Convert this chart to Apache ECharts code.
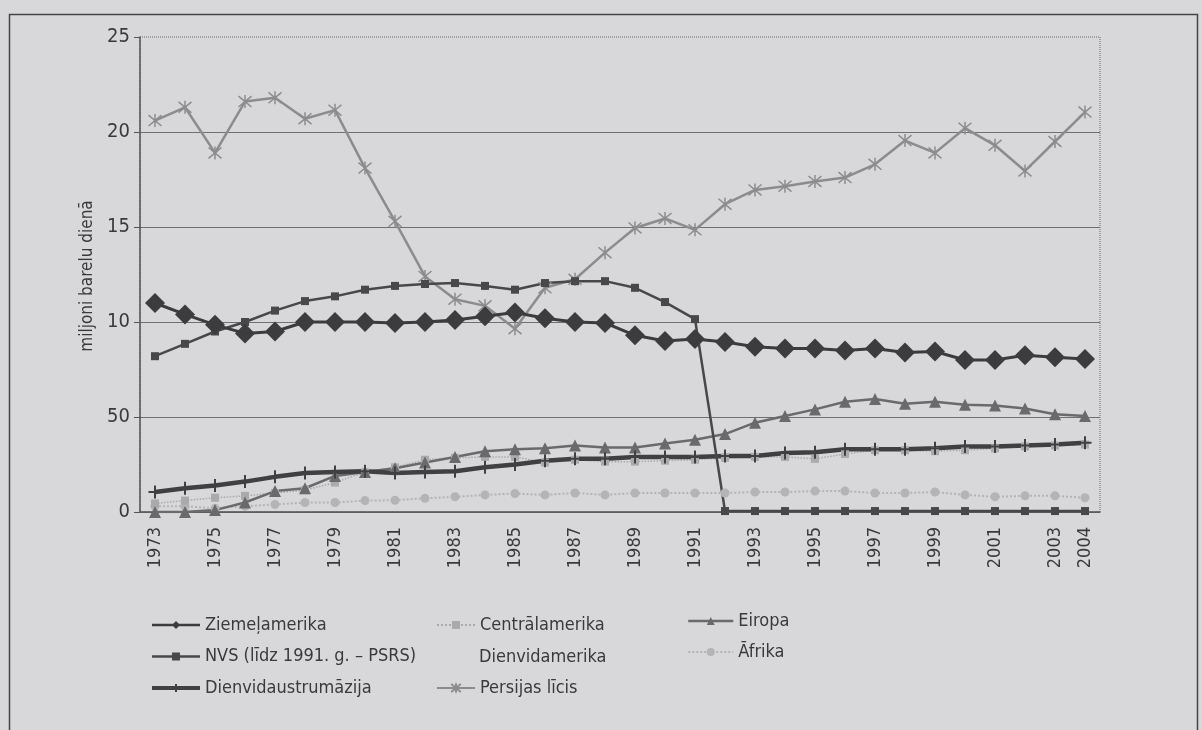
<!DOCTYPE html>
<html>
<head>
<meta charset="utf-8">
<script src="https://cdn.jsdelivr.net/npm/echarts@6/dist/echarts.min.js"></script>
<style>
  html, body { margin: 0; padding: 0; background: #d8d8da; }
  #chart { width: 1202px; height: 730px; }
</style>
</head>
<body>
<div id="chart"></div>
<script>
// gadi
const years = ['1973','1974','1975','1976','1977','1978','1979','1980','1981','1982',
  '1983','1984','1985','1986','1987','1988','1989','1990','1991','1992',
  '1993','1994','1995','1996','1997','1998','1999','2000','2001','2002','2003','2004'];

// y ass iespiesta ar "50" pie 5
const yTickLabels = ['0', '50', '10', '15', '20', '25'];

const ziemelamerika = [11.0, 10.4, 9.85, 9.4, 9.5, 10.0, 10.0, 10.0, 9.95, 10.0,
  10.1, 10.3, 10.5, 10.2, 10.0, 9.95, 9.3, 9.0, 9.1, 8.95,
  8.7, 8.6, 8.6, 8.5, 8.6, 8.4, 8.45, 8.0, 8.0, 8.25, 8.15, 8.05];
const nvs = [8.2, 8.85, 9.5, 10.0, 10.6, 11.1, 11.35, 11.7, 11.9, 12.0,
  12.05, 11.9, 11.7, 12.05, 12.15, 12.15, 11.8, 11.05, 10.15, 0.05,
  0.05, 0.05, 0.05, 0.05, 0.05, 0.05, 0.05, 0.05, 0.05, 0.05, 0.05, 0.05];
const dienvidaustrumazija = [1.05, 1.25, 1.4, 1.6, 1.85, 2.05, 2.1, 2.15, 2.05, 2.1,
  2.15, 2.35, 2.5, 2.7, 2.8, 2.8, 2.9, 2.9, 2.9, 2.95,
  2.95, 3.1, 3.15, 3.3, 3.3, 3.3, 3.35, 3.45, 3.45, 3.5, 3.55, 3.65];
const centralamerika = [0.45, 0.6, 0.75, 0.85, 1.0, 1.15, 1.55, 2.1, 2.35, 2.75,
  2.85, 2.9, 2.9, 2.6, 2.75, 2.65, 2.65, 2.7, 2.75, 2.85,
  2.9, 2.9, 2.8, 3.05, 3.25, 3.25, 3.2, 3.25, 3.35, 3.45, 3.5, 3.55];
const persijasLicis = [20.6, 21.3, 18.9, 21.6, 21.8, 20.7, 21.15, 18.1, 15.3, 12.4,
  11.2, 10.85, 9.65, 11.8, 12.25, 13.65, 14.95, 15.45, 14.85, 16.2,
  16.95, 17.15, 17.4, 17.6, 18.3, 19.55, 18.9, 20.2, 19.3, 17.95, 19.5, 21.05];
const eiropa = [0.0, 0.0, 0.1, 0.5, 1.1, 1.25, 1.9, 2.1, 2.3, 2.6,
  2.9, 3.2, 3.3, 3.35, 3.5, 3.4, 3.4, 3.6, 3.8, 4.1,
  4.7, 5.05, 5.4, 5.8, 5.95, 5.7, 5.8, 5.65, 5.6, 5.45, 5.15, 5.05];
const afrika = [0.3, 0.3, 0.2, 0.3, 0.4, 0.5, 0.5, 0.6, 0.62, 0.72,
  0.8, 0.9, 0.97, 0.9, 1.0, 0.9, 1.0, 1.0, 1.0, 1.0,
  1.05, 1.05, 1.1, 1.1, 1.0, 1.0, 1.05, 0.9, 0.8, 0.85, 0.85, 0.75];

const FONT = "'Liberation Sans Narrow', 'DejaVu Sans Condensed', sans-serif";
const TEXT = '#3a3a3a';

const asterisk = 'path://M0,0L10,10M10,0L0,10M5,-1L5,11';
const plus = 'path://M5,0L5,10M0,5L10,5';

const myChart = echarts.init(document.getElementById('chart'));

const legendText = { color: TEXT, fontFamily: FONT, fontSize: 18, lineHeight: 22 };

const options = {
  backgroundColor: '#d8d8da',
  animation: false,
  grid: {
    left: 140, right: 102, top: 37, bottom: 218,
    show: true, borderColor: '#6a6a6a', borderWidth: 1, borderType: 'dotted'
  },
  legend: [
    {
      orient: 'vertical', left: 150, top: 614, padding: 0,
      itemWidth: 48, itemHeight: 10, itemGap: 9.5,
      textStyle: legendText,
      data: [
        { name: 'Ziemeļamerika', lineStyle: { width: 2.5 } },
        { name: 'NVS (līdz 1991. g. – PSRS)', lineStyle: { width: 2.5 } },
        { name: 'Dienvidaustrumāzija', lineStyle: { width: 4 } }
      ]
    },
    {
      orient: 'vertical', left: 436, top: 614, padding: 0,
      itemWidth: 38, itemHeight: 10,
      textStyle: legendText,
      data: ['Centrālamerika']
    },
    {
      orient: 'vertical', left: 436, top: 677, padding: 0,
      itemWidth: 38, itemHeight: 12,
      textStyle: legendText,
      data: [{ name: 'Persijas līcis', lineStyle: { width: 2 } }]
    },
    {
      orient: 'vertical', left: 687, top: 610, padding: 0,
      itemWidth: 45, itemHeight: 10, itemGap: 9,
      textStyle: legendText,
      data: [{ name: 'Eiropa', lineStyle: { width: 2.5 } }, 'Āfrika']
    }
  ],
  xAxis: {
    type: 'category',
    data: years,
    boundaryGap: true,
    axisLine: { lineStyle: { color: '#555', width: 1.5 } },
    axisTick: { interval: 0, length: 6, lineStyle: { color: '#555' } },
    axisLabel: {
      rotate: 90, color: TEXT, fontFamily: FONT, fontSize: 18, margin: 15,
      interval: (idx, val) => idx % 2 === 0 || val === '2004'
    },
    splitLine: { show: false }
  },
  yAxis: {
    type: 'value',
    min: 0, max: 25, interval: 5,
    axisLine: { show: true, lineStyle: { color: '#555', width: 1.5 } },
    axisTick: { show: true, length: 6, lineStyle: { color: '#555' } },
    axisLabel: {
      color: TEXT, fontFamily: FONT, fontSize: 20, margin: 10,
      formatter: v => yTickLabels[Math.round(v / 5)]
    },
    splitLine: { showMaxLine: false, lineStyle: { color: '#707070', width: 1 } }
  },
  graphic: [
    {
      type: 'rect', left: 7, top: 12, silent: true,
      shape: { width: 1188, height: 740 },
      style: { fill: 'none', stroke: '#444', lineWidth: 1.5 }
    },
    {
      type: 'text', x: 88, y: 276, rotation: Math.PI / 2,
      style: {
        text: 'miljoni barelu dienā', fill: TEXT, font: '17px ' + FONT,
        textAlign: 'center', textVerticalAlign: 'middle'
      }
    },
    {
      type: 'text', x: 479, y: 657,
      style: {
        text: 'Dienvidamerika', fill: TEXT, font: '18px ' + FONT,
        textAlign: 'left', textVerticalAlign: 'middle'
      }
    }
  ],
  series: [
    {
      name: 'Āfrika', type: 'line', data: afrika,
      symbol: 'circle', symbolSize: 9,
      lineStyle: { color: '#b4b4b6', width: 2, type: 'dotted' },
      itemStyle: { color: '#b4b4b6' }
    },
    {
      name: 'Centrālamerika', type: 'line', data: centralamerika,
      symbol: 'rect', symbolSize: 8,
      lineStyle: { color: '#aaaaac', width: 1.5, type: 'dotted' },
      itemStyle: { color: '#aaaaac' }
    },
    {
      name: 'Eiropa', type: 'line', data: eiropa,
      symbol: 'triangle', symbolSize: 12,
      lineStyle: { color: '#6a6a6c', width: 2.5 },
      itemStyle: { color: '#6a6a6c' }
    },
    {
      name: 'Dienvidaustrumāzija', type: 'line', data: dienvidaustrumazija,
      symbol: plus, symbolSize: 13,
      lineStyle: { color: '#404042', width: 4.5 },
      itemStyle: { color: '#404042', borderColor: '#404042', borderWidth: 2 }
    },
    {
      name: 'Persijas līcis', type: 'line', data: persijasLicis,
      symbol: asterisk, symbolSize: 13,
      lineStyle: { color: '#8c8c8e', width: 2.5 },
      itemStyle: { color: '#8c8c8e', borderColor: '#8c8c8e', borderWidth: 1.5 }
    },
    {
      name: 'NVS (līdz 1991. g. – PSRS)', type: 'line', data: nvs,
      symbol: 'rect', symbolSize: 8,
      lineStyle: { color: '#48484a', width: 2.5 },
      itemStyle: { color: '#48484a' }
    },
    {
      name: 'Ziemeļamerika', type: 'line', data: ziemelamerika,
      symbol: 'diamond', symbolSize: 20,
      lineStyle: { color: '#3c3c3e', width: 3 },
      itemStyle: { color: '#3c3c3e' }
    }
  ]
};

myChart.setOption(options);
</script>
</body>
</html>
